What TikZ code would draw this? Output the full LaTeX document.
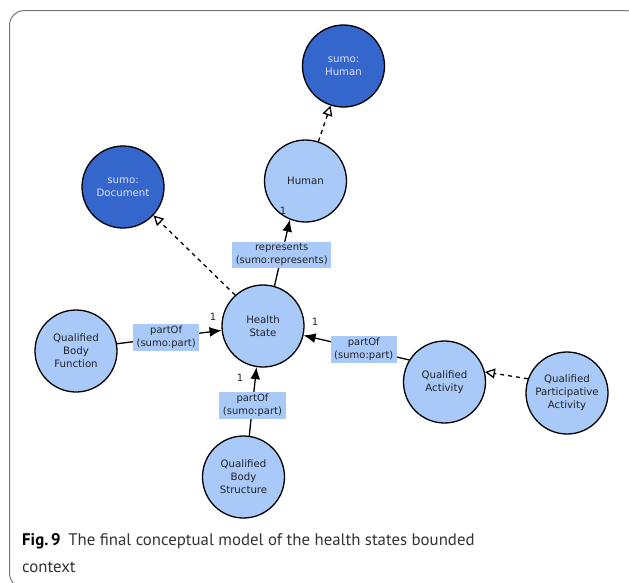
\documentclass[tikz,border=0pt]{standalone}
\usepackage{fontspec}
\setmainfont{DejaVu Sans}
\newfontfamily\capfont{PT Sans}
\usetikzlibrary{arrows.meta}
\definecolor{lightblue}{RGB}{169,201,248}
\definecolor{darkblue}{RGB}{52,102,204}
\definecolor{framegray}{RGB}{120,120,120}
\definecolor{inktext}{RGB}{35,35,40}
\begin{document}
\begin{tikzpicture}[x=1pt,y=-1pt,
  concept/.style={circle,draw=black,line width=1.3pt,fill=lightblue,minimum size=82pt,
    inner sep=0pt,align=center,font=\fontsize{10.2}{13}\selectfont,text=inktext},
  external/.style={concept,fill=darkblue,text=white!88!blue},
  rel/.style={fill=lightblue,inner xsep=3.5pt,inner ysep=2pt,align=center,
    font=\fontsize{10}{13}\selectfont,text=inktext},
  assoc/.style={line width=1.3pt,-{Latex[length=12pt,width=10pt]}},
  subclass/.style={line width=1.3pt,dash pattern=on 4pt off 4pt,
    -{Triangle[open,length=10pt,width=10pt,line width=1.3pt]}},
  mult/.style={font=\fontsize{10}{12}\selectfont,text=inktext,inner sep=0pt}
]
\useasboundingbox (0,0) rectangle (629,582);
\clip (0,0) rectangle (629,582);

% figure frame
\draw[framegray,line width=1pt,rounded corners=15pt]
  (660,588) -- (9.5,588) -- (9.5,10.5) -- (640,10.5) -- (640,60);

% concepts
\node[external] (shuman) at (343.5,66) {sumo:\\Human};
\node[external] (sdoc)   at (123,187)  {sumo:\\Document};
\node[concept]  (human)  at (305.5,181) {Human};
\node[concept]  (hs)     at (263,326)  {Health\\State};
\node[concept]  (qbf)    at (76,351)   {Qualified\\Body\\Function};
\node[concept]  (qa)     at (444.5,382) {Qualified\\Activity};
\node[concept]  (qpa)    at (567,393)  {Qualified\\Participative\\Activity};
\node[concept]  (qbs)    at (243.5,477) {Qualified\\Body\\Structure};

% generalisations
\draw[subclass] (human.72) -- (shuman.252);
\draw[subclass] (hs.132) -- (sdoc.-43);
\draw[subclass] (qpa.160) -- (qa.14);

% associations
\draw[assoc] (hs.74) -- node[rel,pos=0.47] (lrep) {represents\\(sumo:represents)} (human.248);
\draw[assoc] (qbf.10) -- node[rel,pos=0.47] (lqbf) {partOf\\(sumo:part)} (hs.186);
\draw[assoc] (qa.148) -- node[rel,pos=0.43] (lqa) {partOf\\(sumo:part)} (hs.-13);
\draw[assoc] (qbs.82) -- node[rel,pos=0.44] (lqbs) {partOf\\(sumo:part)} (hs.261);

% multiplicities
\node[mult] (m1) at (283,211) {1};
\node[mult] (m2) at (213,317) {1};
\node[mult] (m3) at (315,322) {1};
\node[mult] (m4) at (240,378) {1};

% caption
\node[anchor=base west,inner sep=0pt,font=\capfont\fontsize{16.8}{27}\selectfont,text=black!80]
  (cap1) at (22,545) {\textbf{\color{black}Fig.\,9}\hspace{0.45em}The final conceptual model of the health states bounded};
\node[anchor=base west,inner sep=0pt,font=\capfont\fontsize{16.8}{27}\selectfont,text=black!80]
  (cap2) at (22,572) {context};
\end{tikzpicture}
\end{document}
